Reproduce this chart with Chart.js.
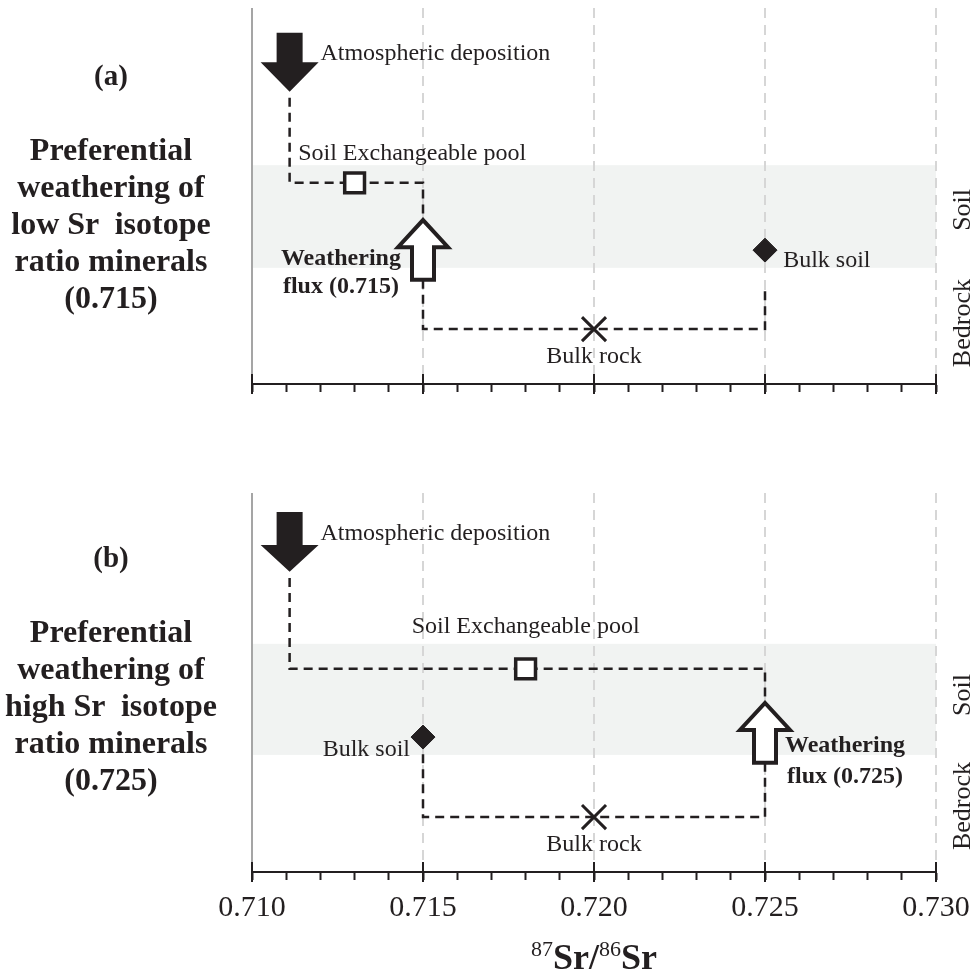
<!DOCTYPE html>
<html lang="en">
<head>
<meta charset="UTF-8">
<title>Sr isotope weathering schematic</title>
<script src="https://cdn.jsdelivr.net/npm/chart.js"></script>
<style>
  body { margin: 0; background: #fff; }
  #wrap { position: relative; width: 974px; height: 977px; font-family: "Liberation Serif", serif; color: #231f20; overflow: hidden; }
  canvas { position: absolute; left: 0; }
  #chartA { top: 0; }
  #chartB { top: 480px; }
  .tag { position: absolute; left: 0; width: 222px; text-align: center; font-weight: bold; font-size: 29px; line-height: 34px; }
  .side { position: absolute; left: 0; width: 222px; text-align: center; font-weight: bold; font-size: 32px; line-height: 37px; white-space: pre; }
  #xtitle { position: absolute; left: 474px; width: 240px; top: 928px; text-align: center; font-weight: bold; font-size: 36px; line-height: 42px; }
  #xtitle span { font-size: 22px; font-weight: normal; vertical-align: 13px; }
</style>
</head>
<body>
<div id="wrap">
  <canvas id="chartA" width="974" height="420"></canvas>
  <canvas id="chartB" width="974" height="497"></canvas>

  <div class="tag" style="top:58px">(a)</div>
  <div class="side" style="top:131px">Preferential
weathering of
low Sr  isotope
ratio minerals
(0.715)</div>

  <div class="tag" style="top:540px">(b)</div>
  <div class="side" style="top:613px">Preferential
weathering of
high Sr  isotope
ratio minerals
(0.725)</div>

  <div id="xtitle"><span>87</span>Sr/<span>86</span>Sr</div>
</div>

<script>
// 87Sr/86Sr ratios, panel (a) then panel (b)
const majorTicks = [0.710, 0.715, 0.720, 0.725, 0.730];
const atmRatio  = [0.7111, 0.7111];
const poolRatio = [0.713, 0.718];
const fluxRatio = [0.715, 0.725];
const rockRatio = [0.720, 0.720];
const soilRatio = [0.725, 0.715];

// depth levels in the profile (0 = top of panel, 100 = axis)
const levelsA = { atmTop: 6.6, atmHead: 14.4, atmTip: 22.3, linkStart: 23.9, pool: 46.5,
                  fluxTip: 56.4, fluxHead: 63.6, fluxBottom: 72.3, rock: 85.4,
                  soil: 64.4, soilEnd: 74.5, band: [41.8, 69.1] };
const levelsB = { atmTop: 5.0, atmHead: 13.7, atmTip: 20.8, linkStart: 22.4, pool: 46.4,
                  fluxTip: 55.4, fluxHead: 62.5, fluxBottom: 71.2, rock: 85.5,
                  soil: 64.4, soilEnd: 67.8, band: [39.8, 69.1] };

const COL = '#231f20';
const FONT = '"Liberation Serif", serif';

// text placed in data space
const labelsA = [
  { text: 'Atmospheric deposition', x: 0.7120, y: 13.8, align: 'left' },
  { text: 'Soil Exchangeable pool', x: 0.71135, y: 40.4, align: 'left' },
  { text: 'Weathering', x: 0.7126, y: 68.4, align: 'center', bold: true },
  { text: 'flux (0.715)', x: 0.7126, y: 75.8, align: 'center', bold: true },
  { text: 'Bulk soil', x: 0.72553, y: 68.9, align: 'left' },
  { text: 'Bulk rock', x: 0.720, y: 94.4, align: 'center' }
];
const labelsB = [
  { text: 'Atmospheric deposition', x: 0.7120, y: 12.4, align: 'left' },
  { text: 'Soil Exchangeable pool', x: 0.7180, y: 36.9, align: 'center' },
  { text: 'Weathering', x: 0.72734, y: 68.3, align: 'center', bold: true },
  { text: 'flux (0.725)', x: 0.72734, y: 76.5, align: 'center', bold: true },
  { text: 'Bulk soil', x: 0.71462, y: 69.4, align: 'right' },
  { text: 'Bulk rock', x: 0.720, y: 94.5, align: 'center' }
];
const zonesA = [{ text: 'Soil', y: 53.7 }, { text: 'Bedrock', y: 83.8 }];
const zonesB = [{ text: 'Soil', y: 53.3 }, { text: 'Bedrock', y: 82.6 }];

function isMajor(v) {
  return Math.abs(v * 200 - Math.round(v * 200)) < 1e-6;
}

function arrowPath(ctx, cx, yTail, yHead, yTip, shaftHW, headHW) {
  ctx.beginPath();
  ctx.moveTo(cx - shaftHW, yTail);
  ctx.lineTo(cx + shaftHW, yTail);
  ctx.lineTo(cx + shaftHW, yHead);
  ctx.lineTo(cx + headHW, yHead);
  ctx.lineTo(cx, yTip);
  ctx.lineTo(cx - headHW, yHead);
  ctx.lineTo(cx - shaftHW, yHead);
  ctx.closePath();
}

function vline(ctx, x, y0, y1) {
  ctx.beginPath();
  ctx.moveTo(x, y0);
  ctx.lineTo(x, y1);
  ctx.stroke();
}

const schematic = {
  id: 'schematic',
  beforeDatasetsDraw(chart, args, opts) {
    const { ctx, chartArea: a, scales: { x, y } } = chart;
    const L = opts.levels;
    ctx.save();
    // soil band
    const b0 = y.getPixelForValue(L.band[0]), b1 = y.getPixelForValue(L.band[1]);
    ctx.fillStyle = '#f1f3f2';
    ctx.fillRect(a.left, b0, a.right - a.left, b1 - b0);
    // dashed grid lines
    ctx.lineWidth = 2;
    ctx.strokeStyle = '#d6d6d6';
    ctx.setLineDash([10, 7]);
    majorTicks.slice(1).forEach(v => vline(ctx, Math.round(x.getPixelForValue(v)), a.top, a.bottom));
    ctx.setLineDash([]);
    ctx.strokeStyle = '#a5a5a5';
    vline(ctx, Math.round(x.getPixelForValue(majorTicks[0])), a.top, a.bottom);
    ctx.restore();
  },
  afterDatasetsDraw(chart, args, opts) {
    const { ctx, chartArea: a, scales: { x, y } } = chart;
    const L = opts.levels, i = opts.index;
    ctx.save();
    // major ticks reach above the axis
    ctx.strokeStyle = COL;
    ctx.lineWidth = 2;
    majorTicks.forEach(v => vline(ctx, Math.round(x.getPixelForValue(v)), a.bottom - 10, a.bottom + 10));

    // atmospheric deposition arrow (solid)
    const ax = x.getPixelForValue(atmRatio[i]);
    arrowPath(ctx, ax, y.getPixelForValue(L.atmTop), y.getPixelForValue(L.atmHead), y.getPixelForValue(L.atmTip), 13, 29);
    ctx.fillStyle = COL;
    ctx.fill();

    // weathering flux arrow (open)
    const fx = x.getPixelForValue(fluxRatio[i]);
    arrowPath(ctx, fx, y.getPixelForValue(L.fluxBottom), y.getPixelForValue(L.fluxHead), y.getPixelForValue(L.fluxTip), 11, 25);
    ctx.fillStyle = '#fff';
    ctx.fill();
    ctx.lineWidth = 4;
    ctx.lineJoin = 'miter';
    ctx.strokeStyle = COL;
    ctx.stroke();

    // labels
    ctx.fillStyle = COL;
    ctx.textBaseline = 'alphabetic';
    opts.labels.forEach(l => {
      ctx.font = (l.bold ? 'bold ' : '') + '24px ' + FONT;
      ctx.textAlign = l.align;
      ctx.fillText(l.text, x.getPixelForValue(l.x), y.getPixelForValue(l.y));
    });

    // Soil / Bedrock zone names
    ctx.font = '26px ' + FONT;
    ctx.textAlign = 'center';
    ctx.textBaseline = 'middle';
    opts.zones.forEach(z => {
      ctx.save();
      ctx.translate(a.right + 27, y.getPixelForValue(z.y));
      ctx.rotate(-Math.PI / 2);
      ctx.fillText(z.text, 0, 0);
      ctx.restore();
    });
    ctx.restore();
  }
};

function makeDatasets(i, L) {
  const link = { showLine: true, pointRadius: 0, pointHoverRadius: 0, borderColor: COL,
                 borderWidth: 2.5, borderDash: [9, 6], fill: false, tension: 0 };
  return [
    { label: 'Soil exchangeable pool', data: [{ x: poolRatio[i], y: L.pool }],
      pointStyle: 'rect', pointRadius: 14, pointHoverRadius: 14,
      backgroundColor: '#fff', borderColor: COL, pointBorderWidth: 3.5 },
    { label: 'Bulk rock', data: [{ x: rockRatio[i], y: L.rock }],
      pointStyle: 'crossRot', pointRadius: 17, pointHoverRadius: 17,
      borderColor: COL, pointBorderWidth: 3 },
    { label: 'Bulk soil', data: [{ x: soilRatio[i], y: L.soil }],
      pointStyle: 'rectRot', pointRadius: 12, pointHoverRadius: 12,
      backgroundColor: COL, borderColor: COL, pointBorderWidth: 1 },
    Object.assign({ label: 'atm-pool-flux', data: [
      { x: atmRatio[i], y: L.linkStart }, { x: atmRatio[i], y: L.pool },
      { x: fluxRatio[i], y: L.pool }, { x: fluxRatio[i], y: L.fluxTip }] }, link),
    Object.assign({ label: 'flux-rock-soil', data: [
      { x: fluxRatio[i], y: L.fluxBottom }, { x: fluxRatio[i], y: L.rock },
      { x: soilRatio[i], y: L.rock }, { x: soilRatio[i], y: L.soilEnd }] }, link)
  ];
}

function makeChart(id, i, L, labels, zones, showTickLabels, padding, axisHeight) {
  return new Chart(document.getElementById(id), {
    type: 'scatter',
    data: { datasets: makeDatasets(i, L) },
    options: {
      responsive: false,
      animation: false,
      events: [],
      clip: false,
      layout: { padding: padding, autoPadding: false },
      plugins: {
        legend: { display: false },
        tooltip: { enabled: false },
        schematic: { index: i, levels: L, labels: labels, zones: zones }
      },
      scales: {
        x: {
          type: 'linear', min: 0.710, max: 0.730, position: 'bottom',
          ticks: {
            display: showTickLabels, stepSize: 0.001, autoSkip: false, maxRotation: 0,
            padding: 10, color: COL, font: { family: FONT, size: 30 },
            callback: v => isMajor(v) ? v.toFixed(3) : ''
          },
          grid: { display: true, drawOnChartArea: false, drawTicks: true, tickLength: 8, tickWidth: 2, tickColor: COL },
          border: { display: true, color: COL, width: 2 },
          afterFit: s => { s.height = axisHeight; s.paddingLeft = 0; s.paddingRight = 0; s.paddingTop = 0; s.paddingBottom = 0; }
        },
        y: {
          type: 'linear', min: 0, max: 100, reverse: true, display: false,
          afterFit: s => { s.width = 0; s.paddingLeft = 0; s.paddingRight = 0; s.paddingTop = 0; s.paddingBottom = 0; }
        }
      }
    },
    plugins: [schematic]
  });
}

makeChart('chartA', 0, levelsA, labelsA, zonesA, false, { left: 252, right: 38, top: 8, bottom: 28 }, 8);
makeChart('chartB', 1, levelsB, labelsB, zonesB, true, { left: 252, right: 38, top: 13, bottom: 51 }, 54);
</script>
</body>
</html>
